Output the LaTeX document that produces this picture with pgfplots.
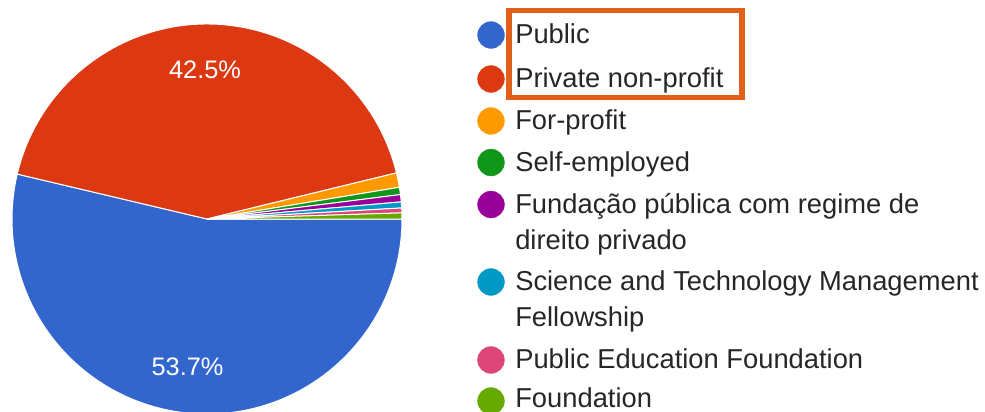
\documentclass[border=0pt]{standalone}
\usepackage{pgfplots}
\pgfplotsset{compat=1.18}
\usepackage{pgfplotstable}
\usepackage{fontspec}
\setmainfont{Liberation Sans}
\definecolor{cPublic}{HTML}{3366CC}
\definecolor{cPriv}{HTML}{DC3912}
\definecolor{cFor}{HTML}{FF9900}
\definecolor{cSelf}{HTML}{109618}
\definecolor{cFund}{HTML}{990099}
\definecolor{cSci}{HTML}{0099C6}
\definecolor{cPE}{HTML}{DD4477}
\definecolor{cFound}{HTML}{66AA00}
\definecolor{cBox}{HTML}{E0601A}
\definecolor{cText}{HTML}{262626}

% share of each category (percent), clockwise from 3 o'clock
\pgfplotstableread{
share col
53.7 cPublic
42.5 cPriv
1.2 cFor
0.6 cSelf
0.6 cFund
0.5 cSci
0.4 cPE
0.5 cFound
}\piedata

\begin{document}
\begin{tikzpicture}[
  lg/.style={font=\fontsize{20.5}{24}\selectfont, anchor=base west, inner sep=0pt, text=cText},
  pct/.style={font=\fontsize{19}{22}\selectfont, anchor=base, inner sep=0pt, text=white}]
\useasboundingbox (0,0) rectangle (738.75pt,308.25pt);
\clip (0,0) rectangle (738.75pt,308.25pt);
\begin{axis}[x=0.75pt, y=0.75pt, xmin=0, xmax=985, ymin=0, ymax=411,
  y dir=reverse, hide axis, clip=false, anchor=south west, at={(0,0)}]
\pgfplotsextra{
  \pgfplotstablegetrowsof{\piedata}
  \pgfmathtruncatemacro\N{\pgfplotsretval-1}
  \gdef\cum{0}
  \foreach \i in {0,...,\N}{
    \pgfplotstablegetelem{\i}{share}\of\piedata \let\val\pgfplotsretval
    \pgfplotstablegetelem{\i}{col}\of\piedata \let\col\pgfplotsretval
    \pgfmathsetmacro\sa{-\cum*3.6}
    \pgfmathsetmacro\ea{-(\cum+\val)*3.6}
    \fill[color=\col, draw=white, line width=0.75pt] (axis cs:207,219) -- ++(\sa:146.25pt)
      arc[start angle=\sa, end angle=\ea, radius=146.25pt] -- cycle;
    \pgfmathsetmacro\newcum{\cum+\val}\global\let\cum\newcum
  }
}
\node[pct] at (axis cs:205,78.3) {42.5\%};
\node[pct] at (axis cs:187.5,375) {53.7\%};

% legend markers
\addplot[only marks, mark=*, mark size=10pt, color=cPublic, mark options={draw=none}] coordinates {(491,35)};
\addplot[only marks, mark=*, mark size=10pt, color=cPriv, mark options={draw=none}] coordinates {(491,79)};
\addplot[only marks, mark=*, mark size=10pt, color=cFor, mark options={draw=none}] coordinates {(491,121)};
\addplot[only marks, mark=*, mark size=10pt, color=cSelf, mark options={draw=none}] coordinates {(491,162.5)};
\addplot[only marks, mark=*, mark size=10pt, color=cFund, mark options={draw=none}] coordinates {(491,204.5)};
\addplot[only marks, mark=*, mark size=10pt, color=cSci, mark options={draw=none}] coordinates {(491,282)};
\addplot[only marks, mark=*, mark size=10pt, color=cPE, mark options={draw=none}] coordinates {(491,360)};
\addplot[only marks, mark=*, mark size=10pt, color=cFound, mark options={draw=none}] coordinates {(491,401)};

% legend text
\node[lg] at (axis cs:515,43.5) {Public};
\node[lg] at (axis cs:515,87.5) {Private non-profit};
\node[lg] at (axis cs:515,129.5) {For-profit};
\node[lg] at (axis cs:515,171) {Self-employed};
\node[lg] at (axis cs:515,213) {Fundação pública com regime de};
\node[lg] at (axis cs:515,249) {direito privado};
\node[lg] at (axis cs:515,290.5) {Science and Technology Management};
\node[lg] at (axis cs:515,326.5) {Fellowship};
\node[lg] at (axis cs:515,368.5) {Public Education Foundation};
\node[lg] at (axis cs:515,407.5) {Foundation};

% highlight box
\draw[cBox, line width=4.1pt] (axis cs:508.8,10.5) rectangle (axis cs:742.2,97.5);
\end{axis}
\end{tikzpicture}
\end{document}
